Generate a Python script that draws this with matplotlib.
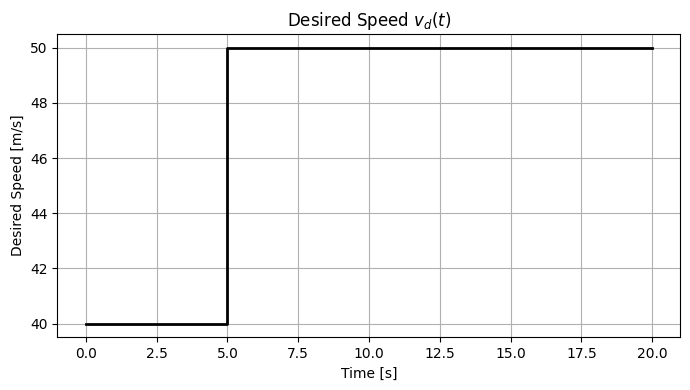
import numpy as np
import matplotlib.pyplot as plt

# step in desired speed
time = [0.0, 5.0, 5.0, 20.0]
speed = [40.0, 40.0, 50.0, 50.0]

fig = plt.figure(figsize=(6.9, 3.9), dpi=100)
plt.plot(time, speed, color='k', linewidth=2)
plt.xlabel("Time [s]")
plt.ylabel("Desired Speed [m/s]")
plt.title(r"Desired Speed $v_d(t)$")
plt.grid(True)
plt.subplots_adjust(left=0.0833, right=0.9862, bottom=0.135, top=0.9128)
plt.savefig("out.png")
